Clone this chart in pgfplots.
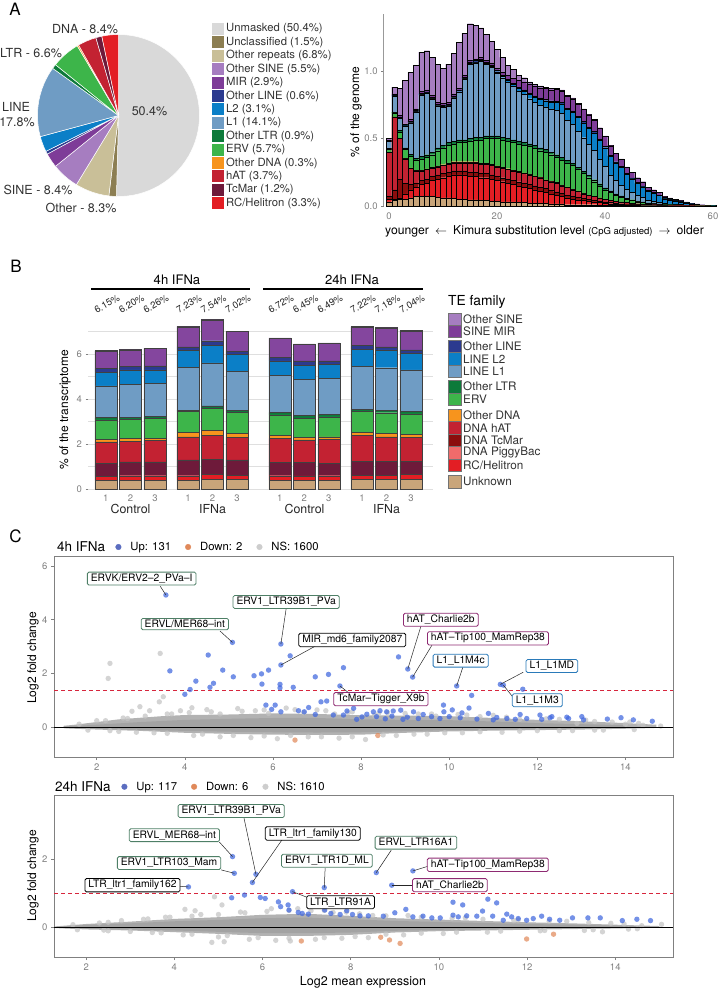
\documentclass[border=0pt]{standalone}
\usepackage{fontspec}
\setmainfont{TeX Gyre Heros}
\usepackage{pgfplots}
\usepackage{pgfplotstable}
\pgfplotsset{compat=1.18}
\pgfplotsset{/pgf/number format/assume math mode=true}

\definecolor{cUnm}{HTML}{D9D9D9}
\definecolor{cUncl}{HTML}{8C7E52}
\definecolor{cOrep}{HTML}{C9BF98}
\definecolor{cOSINE}{HTML}{A67DC0}
\definecolor{cMIR}{HTML}{7E3C98}
\definecolor{cOLINE}{HTML}{2B3A8F}
\definecolor{cL2}{HTML}{0B7FC7}
\definecolor{cL1}{HTML}{6F9CC4}
\definecolor{cOLTR}{HTML}{0D7A3A}
\definecolor{cERV}{HTML}{3DB54A}
\definecolor{cODNA}{HTML}{F7941D}
\definecolor{chAT}{HTML}{C32232}
\definecolor{cTcMar}{HTML}{6E1A3A}
\definecolor{cTcMarH}{HTML}{8B0D0D}
\definecolor{cHel}{HTML}{E31E24}
\definecolor{cPig}{HTML}{F06B6B}
\definecolor{cUnk}{HTML}{C9A57A}
\definecolor{cTick}{HTML}{808080}
\definecolor{cTxt}{HTML}{333333}
\definecolor{cBlue}{HTML}{3F66DE}
\definecolor{cBlueL}{HTML}{5B6DC0}
\definecolor{cOrange}{HTML}{E0895A}
\definecolor{cGrayPt}{HTML}{C4C4C4}
\definecolor{cBand}{HTML}{B2B2B2}
\definecolor{cCore}{HTML}{A3A3A3}
\definecolor{cRedLine}{HTML}{D7263D}
\definecolor{bG}{HTML}{4E7F66}
\definecolor{bP}{HTML}{8E2A72}
\definecolor{bB}{HTML}{2A7AB9}

\newcommand\fs[1]{\fontsize{#1}{#1}\selectfont}
\newcommand\piewedge[3]{\fill[#1, draw=white, line width=0.5pt] (axis cs:0,0) -- ++({90-3.6*#2}:81pt) arc[start angle={90-3.6*#2}, end angle={90-3.6*#3}, radius=81pt] -- cycle;}
\tikzset{lbl/.style={fill=white, rounded corners=1.5pt, line width=0.8pt, inner xsep=3.5pt, inner ysep=1.8pt, font=\fs{10.3}}}
\newcommand\lab[8]{\draw[black!85, line width=0.5pt] (axis cs:#1,#2) -- (axis cs:#3,#4); \node[lbl, draw=#7] at (axis cs:#5,#6) {#8};}
\pgfplotsset{dots/.style={forget plot, only marks, mark=*, mark size=2.7pt, color=#1, draw opacity=0, fill opacity=0.72, mark options={fill=#1, draw opacity=0, fill opacity=0.72}}}

\pgfplotstableread{
k T R D H O E G LA LB N M S
0 .03 .02 .02 .33 0 .02 .005 .052 .003 .005 .005 .01
1 .04 .01 .07 .54 0 .03 .005 .115 .005 .005 .01 .05
2 .05 .01 .14 .30 0 .05 .01 .09 .005 .005 .01 .20
3 .05 .04 .08 .18 .003 .067 .01 .16 .005 .005 .01 .32
4 .06 .06 .04 .12 .003 .087 .015 .232 .005 .006 .012 .35
5 .07 .07 .03 .09 .004 .076 .015 .342 .005 .006 .012 .32
6 .07 .09 .03 .07 .005 .085 .02 .453 .005 .007 .015 .29
7 .07 .10 .03 .07 .005 .085 .02 .453 .005 .007 .015 .29
8 .07 .12 .03 .06 .005 .095 .02 .393 .005 .007 .015 .28
9 .065 .135 .03 .06 .005 .115 .02 .313 .005 .007 .015 .28
10 .06 .15 .03 .06 .006 .124 .02 .283 .005 .007 .015 .26
11 .06 .16 .03 .06 .006 .134 .02 .272 .005 .008 .015 .28
12 .055 .175 .03 .06 .008 .132 .02 .322 .005 .008 .015 .30
13 .05 .18 .03 .06 .008 .142 .02 .352 .005 .008 .015 .34
14 .05 .18 .03 .06 .008 .142 .02 .452 .005 .008 .015 .31
15 .045 .175 .03 .07 .008 .152 .02 .55 .008 .01 .012 .27
16 .045 .175 .03 .07 .008 .162 .02 .55 .008 .01 .012 .25
17 .04 .17 .03 .07 .008 .172 .02 .56 .008 .01 .012 .22
18 .04 .17 .03 .07 .008 .182 .02 .53 .008 .01 .012 .19
19 .035 .165 .03 .07 .008 .192 .02 .505 .01 .01 .015 .16
20 .035 .155 .03 .07 .008 .202 .02 .465 .01 .01 .015 .14
21 .03 .15 .03 .07 .006 .204 .02 .44 .01 .01 .02 .11
22 .03 .14 .03 .07 .006 .204 .02 .418 .012 .01 .03 .07
23 .03 .13 .03 .07 .005 .205 .02 .395 .015 .01 .04 .06
24 .025 .125 .03 .07 .005 .205 .02 .37 .02 .01 .05 .04
25 .025 .115 .03 .07 .005 .205 .02 .355 .025 .01 .06 .03
26 .02 .11 .03 .07 .004 .206 .02 .335 .03 .01 .065 .02
27 .02 .10 .03 .07 .004 .206 .02 .32 .035 .01 .07 .015
28 .02 .09 .03 .07 .004 .196 .02 .32 .04 .01 .075 .015
29 .02 .08 .03 .06 .003 .207 .02 .315 .045 .01 .08 .01
30 .015 .075 .025 .065 .003 .197 .02 .32 .05 .01 .08 .01
31 .015 .065 .025 .065 .003 .187 .02 .327 .06 .01 .085 .008
32 .015 .055 .025 .055 .002 .188 .02 .327 .07 .01 .085 .008
33 .01 .05 .02 .06 .002 .178 .02 .294 .08 .01 .09 .006
34 .01 .04 .02 .05 .002 .178 .018 .287 .09 .01 .09 .005
35 .01 .035 .02 .045 .002 .158 .018 .267 .10 .01 .09 .005
36 .01 .03 .015 .035 .002 .148 .017 .249 .11 .01 .09 .004
37 .01 .025 .015 .03 .001 .129 .016 .23 .12 .01 .09 .004
38 .01 .02 .012 .028 .001 .109 .015 .217 .13 .01 .085 .003
39 .005 .02 .01 .025 .001 .089 .015 .182 .14 .01 .08 .003
40 .005 .015 .01 .02 .001 .069 .015 .157 .14 .01 .075 .003
41 .005 .012 .008 .015 0 .06 .012 .117 .14 .008 .07 .003
42 .004 .01 .006 .015 0 .045 .01 .10 .13 .008 .06 .002
43 .004 .008 .005 .013 0 .035 .01 .08 .13 .008 .055 .002
44 .003 .007 .005 .01 0 .025 .008 .067 .11 .008 .045 .002
45 .003 .006 .004 .007 0 .02 .007 .055 .10 .006 .04 .002
46 .003 .005 .003 .006 0 .013 .006 .041 .09 .006 .035 .002
47 .002 .004 .003 .005 0 .011 .005 .033 .08 .005 .03 .002
48 .002 .003 .002 .004 0 .009 .004 .02 .065 .005 .025 .001
49 .002 .003 .002 .003 0 .006 .004 .015 .06 .004 .02 .001
50 .001 .002 .002 .003 0 .005 .003 .011 .05 .004 .018 .001
51 .001 .002 .001 .002 0 .004 .002 .007 .035 .003 .012 .001
52 .001 .001 .001 .002 0 .003 .002 .006 .03 .003 .01 .001
53 .001 .001 .001 .001 0 .002 .002 .005 .025 .003 .008 .001
54 .001 .001 .0005 .0005 0 .002 .001 .005 .02 .002 .006 .001
55 .001 .001 0 .001 0 .001 .001 .003 .015 .002 .005 0
56 .0005 .0005 0 .001 0 .001 .0005 .0025 .01 .001 .003 0
57 .0005 .0005 0 .0005 0 .0005 .0005 .0015 .008 .001 .002 0
58 .0003 .0003 0 .0004 0 .0005 .0005 0 .005 .001 .002 0
59 0 0 0 .0005 0 .0005 .0005 0 .003 .0005 .001 0
60 0 0 0 0 0 .0005 .0005 0 .0015 .0005 .001 0
}\hist

\pgfplotstableread{
x tan red wine hat odna erv oltr la lb oline mir osine
0 .38 .17 .59 .96 .12 .85 .10 1.41 .59 .19 .77 .02
1 .40 .19 .62 .92 .12 .86 .09 1.45 .64 .15 .74 .02
2 .40 .19 .62 .94 .11 .87 .09 1.48 .59 .18 .77 .02
3.35 .40 .19 .70 1.03 .20 .92 .07 1.90 .74 .17 .89 .02
4.35 .43 .22 .67 1.08 .22 .97 .10 1.92 .79 .19 .93 .02
5.35 .43 .19 .67 1.01 .17 .94 .10 1.73 .74 .15 .87 .02
7.1 .40 .19 .60 1.06 .15 .90 .11 1.63 .66 .15 .85 .02
8.1 .40 .18 .59 1.01 .12 .84 .12 1.61 .64 .18 .74 .02
9.1 .40 .19 .55 1.07 .11 .89 .11 1.60 .62 .16 .77 .02
10.45 .43 .19 .62 1.13 .15 .92 .10 1.90 .77 .16 .83 .02
11.45 .43 .19 .62 1.08 .15 .92 .10 1.90 .79 .14 .84 .02
12.45 .43 .22 .59 1.06 .14 .90 .10 1.85 .74 .15 .84 .02
}\tblB

\pgfplotsset{maplot/.style={scale only axis, width=619pt,
  axis line style={cTick, line width=0.6pt}, tick style={cTick, line width=0.6pt},
  tick align=outside, major tick length=3pt, xtick pos=left, ytick pos=left,
  xtick={2,4,...,14}, tick label style={font=\fs{9.5}, text=cTick},
  clip mode=individual, legend columns=-1,
  legend style={draw=none, fill=none, inner sep=0pt, font=\fs{11.3},
    /tikz/every even column/.append style={column sep=12pt},
    /tikz/every odd column/.append style={column sep=7pt}}}}

\begin{document}
\begin{tikzpicture}
\useasboundingbox (0pt,0pt) rectangle (725pt,-990pt);

% ---------------- PIE ----------------
\begin{axis}[at={(118.5pt,-115.5pt)}, anchor=center, scale only axis, width=162pt, height=162pt,
  hide axis, xmin=-1, xmax=1, ymin=-1, ymax=1, clip=false]
\addplot[draw=none, forget plot] coordinates {(0,0)};
\piewedge{cUnm}{0}{50.4}
\piewedge{cUncl}{50.4}{51.9}
\piewedge{cOrep}{51.9}{58.7}
\piewedge{cOSINE}{58.7}{64.2}
\piewedge{cMIR}{64.2}{67.1}
\piewedge{cOLINE}{67.1}{67.7}
\piewedge{cL2}{67.7}{70.8}
\piewedge{cL1}{70.8}{84.9}
\piewedge{cOLTR}{84.9}{85.8}
\piewedge{cERV}{85.8}{91.5}
\piewedge{cODNA}{91.5}{91.8}
\piewedge{chAT}{91.8}{95.5}
\piewedge{cTcMar}{95.5}{96.7}
\piewedge{cHel}{96.7}{100}
\end{axis}

% ---------------- HISTOGRAM ----------------
\begin{axis}[at={(383.6pt,-206pt)}, anchor=south west, scale only axis,
  width=340.2pt, height=191.7pt, xmin=-1, xmax=62, ymin=0, ymax=1.42,
  ybar stacked, bar width=1,
  axis lines*=left, x axis line style={draw=none}, y axis line style={draw=cTick!80, line width=1pt},
  xtick={0,20,40,60}, ytick={0,0.5,1}, yticklabels={0.0,0.5,1.0},
  xtick style={draw=none}, ytick style={cTick, line width=0.6pt}, tick align=outside, major tick length=2.5pt,
  tick label style={font=\fs{9.5}, text=cTick}, xticklabel style={yshift=-1pt}]
\addplot[fill=cUnk, draw=black, line width=0.3pt] table[x=k,y=T]{\hist};
\addplot[fill=cHel, draw=black, line width=0.3pt] table[x=k,y=R]{\hist};
\addplot[fill=cTcMarH, draw=black, line width=0.3pt] table[x=k,y=D]{\hist};
\addplot[fill=chAT, draw=black, line width=0.3pt] table[x=k,y=H]{\hist};
\addplot[fill=cODNA, draw=black, line width=0.3pt] table[x=k,y=O]{\hist};
\addplot[fill=cERV, draw=black, line width=0.3pt] table[x=k,y=E]{\hist};
\addplot[fill=cOLTR, draw=black, line width=0.3pt] table[x=k,y=G]{\hist};
\addplot[fill=cL1, draw=black, line width=0.3pt] table[x=k,y=LA]{\hist};
\addplot[fill=cL2, draw=black, line width=0.3pt] table[x=k,y=LB]{\hist};
\addplot[fill=cOLINE, draw=black, line width=0.3pt] table[x=k,y=N]{\hist};
\addplot[fill=cMIR, draw=black, line width=0.3pt] table[x=k,y=M]{\hist};
\addplot[fill=cOSINE, draw=black, line width=0.3pt] table[x=k,y=S]{\hist};
\end{axis}

% ---------------- PANEL B ----------------
\begin{axis}[at={(88pt,-489pt)}, anchor=south west, scale only axis,
  width=345pt, height=171pt, xmin=-0.73, xmax=13.35, ymin=0, ymax=7.6,
  ybar stacked, bar width=0.9,
  axis lines*=left, axis line style={draw=none},
  xtick={0,1,2,3.35,4.35,5.35,7.1,8.1,9.1,10.45,11.45,12.45},
  xticklabels={1,2,3,1,2,3,1,2,3,1,2,3},
  ytick={0,2,4,6}, minor ytick={1,3,5,7},
  ymajorgrids, yminorgrids, grid style={gray!25, line width=0.7pt},
  xtick style={draw=none}, ytick style={cTick, line width=0.6pt}, tick align=outside, major tick length=2.5pt,
  minor tick length=0pt,
  tick label style={font=\fs{9.5}, text=cTick}]
\addplot[fill=cUnk, draw=black!75, line width=0.45pt] table[x=x,y=tan]{\tblB};
\addplot[fill=cHel, draw=black!75, line width=0.45pt] table[x=x,y=red]{\tblB};
\addplot[fill=cTcMar, draw=black!75, line width=0.45pt] table[x=x,y=wine]{\tblB};
\addplot[fill=chAT, draw=black!75, line width=0.45pt] table[x=x,y=hat]{\tblB};
\addplot[fill=cODNA, draw=black!75, line width=0.45pt] table[x=x,y=odna]{\tblB};
\addplot[fill=cERV, draw=black!75, line width=0.45pt] table[x=x,y=erv]{\tblB};
\addplot[fill=cOLTR, draw=black!75, line width=0.45pt] table[x=x,y=oltr]{\tblB};
\addplot[fill=cL1, draw=black!75, line width=0.45pt] table[x=x,y=la]{\tblB};
\addplot[fill=cL2, draw=black!75, line width=0.45pt] table[x=x,y=lb]{\tblB};
\addplot[fill=cOLINE, draw=black!75, line width=0.45pt] table[x=x,y=oline]{\tblB};
\addplot[fill=cMIR!85!cOSINE, draw=black!75, line width=0.45pt] table[x=x,y=mir]{\tblB};
\addplot[fill=cOSINE, draw=black!75, line width=0.45pt] table[x=x,y=osine]{\tblB};
\end{axis}

% ---------------- PANEL C top ----------------
\begin{axis}[maplot, at={(54pt,-757pt)}, anchor=south west, height=201pt,
  xmin=1.03, xmax=15.08, ymin=-1.10, ymax=6.37, ytick={0,2,4,6},
  legend style={at={(0.0989,1.0448)}, anchor=west}]
\addlegendimage{legend image code/.code={\fill[cBlueL] (0pt,0pt) circle (2.8pt);}}
\addlegendentry{Up: 131}
\addlegendimage{legend image code/.code={\fill[cOrange] (0pt,0pt) circle (2.8pt);}}
\addlegendentry{Down: 2}
\addlegendimage{legend image code/.code={\fill[cGrayPt!85] (0pt,0pt) circle (2.8pt);}}
\addlegendentry{NS: 1600}
\addplot[forget plot, fill=cBand, draw=none] coordinates {(1.25,0.06) (1.5,0.1) (2,0.2) (2.5,0.3) (3,0.36) (3.5,0.42) (4,0.46) (5,0.48) (6,0.52) (7,0.5) (8,0.45) (9,0.44) (10,0.42) (11,0.35) (12,0.28) (13,0.23) (14,0.16) (14.7,0.1) (14.7,-0.02) (14,-0.05) (13,-0.08) (12,-0.1) (11,-0.12) (10,-0.15) (9,-0.2) (8,-0.27) (7,-0.28) (6,-0.27) (5,-0.24) (4,-0.2) (3,-0.13) (2,-0.08) (1.5,-0.05) (1.25,-0.03)} -- cycle;
\addplot[forget plot, fill=cCore, draw=none] coordinates {(1.25,0.03) (2,0.1) (3,0.2) (4,0.28) (5,0.32) (6,0.35) (7,0.35) (8,0.3) (9,0.28) (10,0.27) (11,0.22) (12,0.16) (13,0.12) (14,0.08) (14,-0.02) (13,-0.04) (12,-0.06) (11,-0.08) (10,-0.1) (9,-0.14) (8,-0.18) (7,-0.19) (6,-0.18) (5,-0.16) (4,-0.13) (3,-0.09) (2,-0.05) (1.25,-0.02)} -- cycle;
\addplot[dots=cGrayPt] coordinates {
(3.44,2.75) (2.30,2.38) (2.26,1.82) (3.42,0.95) (3.51,1.14) (2.98,0.77) (4.16,0.73) (2.8,0.6) (3.2,0.62) (3.9,0.62) (4.5,0.66) (5.2,0.7) (5.6,0.62) (6.3,0.72) (7.0,0.65) (7.8,0.58) (8.6,0.55) (9.3,0.5) (10.2,0.48) (11.0,0.45) (12.5,0.3) (13.3,0.22) (14.0,0.12) (14.3,0.15) (14.8,0.05)
(2.5,-0.15) (3.3,-0.2) (4.2,-0.3) (4.8,-0.35) (5.5,-0.38) (6.1,-0.42) (6.8,-0.35) (7.5,-0.4) (8.1,-0.45) (8.8,-0.3) (9.5,-0.25) (10.3,-0.2) (11.2,-0.18) (12.0,-0.12) (12.8,-0.12) (13.5,-0.1)
(12.9,0.15) (13.7,0.2) (14.4,0.08) (2.0,0.25) (2.6,0.35) (3.7,0.5) (4.8,0.5) (5.9,0.52) (6.7,0.55) (7.4,0.5) (8.3,0.45) (9.7,0.42) (10.7,0.4) (11.6,0.3)
(1.6,0.12) (2.2,0.25) (2.7,0.33) (3.1,0.42) (3.6,0.5) (4.1,0.55) (4.6,0.58) (5.3,0.6) (5.8,0.65) (6.5,0.66) (7.2,0.62) (7.7,0.55) (8.4,0.52) (9.0,0.52) (9.6,0.5) (10.4,0.46) (11.3,0.38) (12.2,0.32) (13.1,0.27) (14.1,0.2)
(1.8,-0.1) (2.3,-0.12) (2.9,-0.18) (3.6,-0.22) (4.4,-0.25) (5.1,-0.3) (5.8,-0.32) (6.4,-0.3) (7.1,-0.35) (7.8,-0.35) (8.5,-0.28) (9.2,-0.25) (9.9,-0.2) (10.7,-0.16) (11.6,-0.14) (12.5,-0.12) (13.3,-0.1) (14.2,-0.08)};
\addplot[forget plot, black, line width=0.9pt] coordinates {(1.03,0) (15.08,0)};
\addplot[forget plot, cRedLine, line width=0.8pt, dash pattern=on 4pt off 3pt] coordinates {(1.03,1.38) (15.08,1.38)};
\addplot[dots=cBlue] coordinates {
(3.57,4.92) (5.08,3.16) (6.18,3.10) (6.18,2.32) (3.66,2.10) (4.53,2.69) (4.86,2.13) (5.10,1.88) (4.25,1.72) (4.12,1.41) (4.00,1.23) (4.65,1.64) (4.57,1.49) (5.57,1.92) (5.74,1.99) (5.90,2.13) (6.39,2.66) (5.75,1.61) (6.16,1.60) (6.16,1.47) (6.46,1.49) (6.96,1.88) (7.26,1.97) (7.60,2.22) (7.52,1.54) (7.09,0.95) (7.22,0.98) (5.84,0.83) (6.05,0.83) (5.97,0.67) (6.18,0.58) (6.58,0.62) (6.71,0.58) (6.81,0.74) (6.96,0.48) (7.68,0.61) (7.83,0.71) (7.60,0.46) (7.37,0.46) (8.02,0.39)
(8.85,2.62) (9.06,2.17) (9.17,1.87) (10.17,1.54) (11.16,1.60) (11.23,1.57) (11.67,1.42) (10.51,1.19) (9.87,0.83) (9.88,0.58) (10.07,0.65) (10.29,0.54) (10.45,0.72) (9.19,0.58) (9.41,0.48) (8.90,0.64) (8.73,0.61) (8.58,0.58) (8.43,0.62) (8.28,0.58) (8.13,0.49) (10.89,0.52) (11.08,0.37) (11.61,0.48) (12.06,0.46) (12.33,0.40) (12.67,0.38) (13.01,0.40) (13.05,0.28) (13.59,0.31) (13.90,0.36) (14.18,0.28) (14.61,0.23) (9.79,0.33) (10.25,0.36) (10.63,0.31) (11.31,0.33) (11.50,0.30) (11.76,0.33) (12.29,0.36) (12.71,0.33) (8.35,0.40) (8.70,0.42) (9.05,0.38) (9.60,0.40) (8.55,0.32) (9.30,0.33) (10.00,0.40) (11.00,0.28) (12.10,0.30) (7.90,0.30) (8.95,0.30)};
\addplot[dots=cOrange] coordinates {(6.50,-0.47) (8.38,-0.30)};
\lab{3.57}{4.92}{3.44}{5.25}{3.02}{5.53}{bG}{ERVK/ERV2--2\_PVa--I}
\lab{6.18}{3.10}{6.30}{4.42}{6.30}{4.66}{bG}{ERV1\_LTR39B1\_PVa}
\lab{5.08}{3.16}{4.80}{3.58}{4.00}{3.84}{bG}{ERVL/MER68--int}
\lab{6.18}{2.32}{6.96}{3.02}{7.80}{3.25}{black}{MIR\_md6\_family2087}
\lab{9.06}{2.17}{9.36}{3.77}{9.81}{4.00}{bP}{hAT\_Charlie2b}
\lab{9.17}{1.87}{9.61}{3.06}{10.88}{3.31}{bP}{hAT--Tip100\_MamRep38}
\lab{10.17}{1.54}{10.31}{2.24}{10.26}{2.48}{bB}{L1\_L1M4c}
\lab{11.16}{1.60}{11.68}{2.05}{12.33}{2.28}{bB}{L1\_L1MD}
\lab{11.23}{1.57}{11.43}{1.16}{12.00}{1.01}{bB}{L1\_L1M3}
\lab{7.52}{1.54}{7.70}{1.31}{8.45}{1.05}{bP}{TcMar--Tigger\_X9b}
\end{axis}

% ---------------- PANEL C bottom ----------------
\begin{axis}[maplot, at={(54pt,-957pt)}, anchor=south west, height=162pt,
  xmin=1.27, xmax=15.31, ymin=-0.87, ymax=3.89, ytick={0,2},
  legend style={at={(0.1086,1.051)}, anchor=west}]
\addlegendimage{legend image code/.code={\fill[cBlueL] (0pt,0pt) circle (2.8pt);}}
\addlegendentry{Up: 117}
\addlegendimage{legend image code/.code={\fill[cOrange] (0pt,0pt) circle (2.8pt);}}
\addlegendentry{Down: 6}
\addlegendimage{legend image code/.code={\fill[cGrayPt!85] (0pt,0pt) circle (2.8pt);}}
\addlegendentry{NS: 1610}
\addplot[forget plot, fill=cBand, draw=none] coordinates {(1.3,0.03) (2,0.1) (3,0.17) (4,0.25) (5,0.3) (6,0.37) (7,0.4) (8,0.34) (9,0.27) (10,0.23) (11,0.19) (12,0.15) (13,0.12) (14,0.08) (15,0.04) (15,-0.01) (14,-0.03) (13,-0.05) (12,-0.07) (11,-0.09) (10,-0.11) (9,-0.15) (8,-0.22) (7,-0.25) (6,-0.25) (5,-0.19) (4,-0.14) (3,-0.09) (2,-0.06) (1.3,-0.02)} -- cycle;
\addplot[forget plot, fill=cCore, draw=none] coordinates {(1.3,0.02) (2,0.07) (3,0.12) (4,0.18) (5,0.22) (6,0.27) (7,0.29) (8,0.24) (9,0.19) (10,0.16) (11,0.13) (12,0.1) (13,0.08) (14,0.05) (15,0.02) (15,-0.005) (14,-0.02) (13,-0.03) (12,-0.04) (11,-0.06) (10,-0.07) (9,-0.1) (8,-0.15) (7,-0.17) (6,-0.17) (5,-0.13) (4,-0.09) (3,-0.06) (2,-0.04) (1.3,-0.01)} -- cycle;
\addplot[dots=cGrayPt] coordinates {
(4.91,0.90) (5.08,0.66) (4.24,0.53) (4.47,0.49) (4.85,-0.44) (5.13,-0.42) (6.63,-0.40) (13.71,-0.13) (15.05,0.09)
(2.5,0.15) (3.4,0.25) (3.8,0.3) (4.6,0.38) (5.5,0.45) (6.2,0.55) (6.8,0.55) (7.4,0.5) (7.9,0.45) (8.5,0.35) (9.3,0.35) (10.6,0.28) (11.8,0.22) (12.9,0.18) (13.9,0.12) (14.6,0.05)
(2.5,-0.1) (3.5,-0.15) (4.2,-0.22) (5.0,-0.28) (5.7,-0.35) (6.3,-0.38) (7.2,-0.35) (7.8,-0.32) (8.4,-0.3) (9.2,-0.22) (10.1,-0.18) (11.1,-0.14) (12.3,-0.1) (13.3,-0.09) (14.3,-0.05)
(1.7,0.08) (2.3,0.13) (2.8,0.2) (3.3,0.24) (3.9,0.3) (4.4,0.33) (5.0,0.38) (5.6,0.43) (6.1,0.47) (6.6,0.5) (7.1,0.49) (7.6,0.44) (8.2,0.4) (8.8,0.34) (9.6,0.3) (10.3,0.27) (11.0,0.24) (11.7,0.2) (12.5,0.18) (13.4,0.14) (14.2,0.1)
(1.8,-0.07) (2.4,-0.08) (3.0,-0.12) (3.7,-0.16) (4.4,-0.2) (5.2,-0.24) (5.9,-0.3) (6.6,-0.32) (7.4,-0.3) (8.1,-0.27) (8.8,-0.2) (9.6,-0.17) (10.4,-0.14) (11.4,-0.11) (12.4,-0.09) (13.5,-0.07) (14.5,-0.04)};
\addplot[forget plot, black, line width=0.9pt] coordinates {(1.27,0) (15.31,0)};
\addplot[forget plot, cRedLine, line width=0.8pt, dash pattern=on 4pt off 3pt] coordinates {(1.27,1) (15.31,1)};
\addplot[dots=cBlue] coordinates {
(5.32,2.08) (5.36,1.59) (5.85,1.56) (5.77,1.32) (4.32,1.19) (7.40,1.17) (6.68,1.05) (5.30,0.87) (5.59,0.95) (5.95,0.88) (6.06,0.85) (6.36,0.75) (6.58,0.66) (6.60,0.51) (6.81,0.44) (6.90,0.41) (7.04,0.39) (7.41,0.51) (7.55,0.41) (7.76,0.38) (7.91,0.49) (8.04,0.38) (8.21,0.34) (6.41,0.61)
(8.58,1.61) (9.41,1.66) (8.93,1.24) (10.32,0.74) (10.54,0.66) (11.11,0.83) (11.31,0.72) (10.99,0.48) (11.54,0.39) (9.25,0.53) (9.00,0.43) (8.74,0.33) (8.40,0.34) (9.41,0.31) (9.64,0.33) (9.84,0.28) (10.03,0.28) (10.32,0.36) (10.44,0.31) (10.63,0.34) (10.86,0.33) (11.22,0.33) (11.46,0.21) (11.65,0.31) (11.80,0.26) (11.99,0.21) (12.14,0.26) (12.33,0.33) (12.51,0.24) (12.74,0.21) (13.03,0.28) (13.38,0.28) (13.66,0.28) (14.16,0.20) (14.49,0.24) (14.80,0.20)};
\addplot[dots=cOrange] coordinates {(6.88,-0.40) (8.68,-0.29) (8.88,-0.37) (9.12,-0.47) (11.99,-0.34) (12.60,-0.20)};
\lab{5.85}{1.56}{5.58}{3.21}{5.29}{3.42}{bG}{ERV1\_LTR39B1\_PVa}
\lab{5.32}{2.08}{5.02}{2.51}{4.00}{2.71}{bG}{ERVL\_MER68--int}
\lab{5.77}{1.32}{6.44}{2.57}{7.14}{2.76}{black}{LTR\_ltr1\_family130}
\lab{5.36}{1.59}{5.06}{1.69}{3.88}{1.89}{bG}{ERV1\_LTR103\_Mam}
\lab{7.40}{1.17}{7.42}{1.74}{7.46}{1.96}{bG}{ERV1\_LTR1D\_ML}
\lab{4.32}{1.19}{4.09}{1.21}{3.05}{1.24}{black}{LTR\_ltr1\_family162}
\lab{6.68}{1.05}{7.06}{0.86}{7.77}{0.74}{black}{LTR\_LTR91A}
\lab{8.58}{1.61}{8.92}{2.27}{9.48}{2.49}{bG}{ERVL\_LTR16A1}
\lab{9.41}{1.66}{9.76}{1.80}{11.11}{1.84}{bP}{hAT--Tip100\_MamRep38}
\lab{8.93}{1.24}{9.39}{1.24}{10.25}{1.24}{bP}{hAT\_Charlie2b}
\end{axis}

% ---------------- TEXT ----------------
\begin{scope}[x=1pt, y=-1pt]
\node[font=\fs{17}] at (15,9) {A};
\node[font=\fs{17}] at (16,266) {B};
\node[font=\fs{17}] at (15.5,536.5) {C};
% pie labels
\node[font=\fs{12.5}, text=cTxt] at (149.5,111) {50.4\%};
\node[font=\fs{12.5}, text=cTxt] at (85,29) {DNA - 8.4\%};
\node[font=\fs{12.5}, text=cTxt] at (31,53) {LTR - 6.6\%};
\node[font=\fs{12.5}, text=cTxt] at (16,107) {LINE};
\node[font=\fs{12.5}, text=cTxt] at (17,122) {17.8\%};
\node[font=\fs{12.5}, text=cTxt] at (38,190) {SINE - 8.4\%};
\node[font=\fs{12.5}, text=cTxt] at (81,208) {Other - 8.3\%};
% pie legend
\foreach \c/\t [count=\i from 0] in {cUnm/{Unmasked (50.4\%)}, cUncl/{Unclassified (1.5\%)}, cOrep/{Other repeats (6.8\%)}, cOSINE/{Other SINE (5.5\%)}, cMIR/{MIR (2.9\%)}, cOLINE/{Other LINE (0.6\%)}, cL2/{L2 (3.1\%)}, cL1/{L1 (14.1\%)}, cOLTR/{Other LTR (0.9\%)}, cERV/{ERV (5.7\%)}, cODNA/{Other DNA (0.3\%)}, chAT/{hAT (3.7\%)}, cTcMar/{TcMar (1.2\%)}, cHel/{RC/Helitron (3.3\%)}} {
  \fill[\c] (212,{29+13.4*\i-6}) rectangle (224,{29+13.4*\i+6});
  \node[anchor=west, font=\fs{11.3}, text=cTxt, inner sep=0pt] at (226,{29+13.4*\i}) {\t};
}
% histogram labels
\node[font=\fs{12}, rotate=90] at (356,112) {\% of the genome};
\node[font=\fs{12.2}] at (544.5,231) {younger\enspace$\leftarrow$\enspace Kimura substitution level {\fs{9.5}(CpG adjusted)}\enspace$\rightarrow$\enspace older};
% panel B labels
\node[font=\fs{13.1}] at (177,280) {4h IFNa};
\draw[line width=2.6pt] (91,289) -- (250,289);
\node[font=\fs{13.1}] at (352,280) {24h IFNa};
\draw[line width=2.6pt] (263,289) -- (423,289);
\foreach \x/\t in {106/6.15, 130.5/6.20, 155/6.26, 188/7.23, 212.6/7.54, 237/7.02, 280/6.72, 304.5/6.45, 329/6.49, 362/7.22, 386.5/7.18, 411/7.04} {
  \node[font=\fs{9.6}, rotate=30, text=black!85, inner sep=0.5pt] at (\x+1,304) {\t\%};
}
\node[font=\fs{12.4}, text=black!85] at (130.5,509) {Control};
\node[font=\fs{12.4}, text=black!85] at (212.6,509) {IFNa};
\node[font=\fs{12.4}, text=black!85] at (304.5,509) {Control};
\node[font=\fs{12.4}, text=black!85] at (386.5,509) {IFNa};
\node[font=\fs{12}, rotate=90] at (65,410) {\% of the transcriptome};
% panel B legend
\node[anchor=west, font=\fs{13.8}, inner sep=0pt] at (448,302) {TE family};
\foreach \c/\t/\y in {cOSINE/{Other SINE}/319.3, cMIR/{SINE MIR}/331.5, cOLINE/{Other LINE}/346.5, cL2/{LINE L2}/359, cL1/{LINE L1}/371.5, cOLTR/{Other LTR}/386.7, cERV/{ERV}/399.2, cODNA/{Other DNA}/415.5, chAT/{DNA hAT}/428, cTcMarH/{DNA TcMar}/440.5, cPig/{DNA PiggyBac}/453, cHel/{RC/Helitron}/465.5, cUnk/{Unknown}/481.7} {
  \fill[\c, draw=black!55, line width=0.6pt] (448,\y-6.25) rectangle (461,\y+6.25);
  \node[anchor=west, font=\fs{11.7}, text=cTxt, inner sep=0pt] at (463,\y) {\t};
}
% panel C labels
\node[anchor=west, font=\fs{13.5}, inner sep=0pt] at (57,547) {4h IFNa};
\node[anchor=west, font=\fs{13.5}, inner sep=0pt] at (55,786.7) {24h IFNa};
\node[font=\fs{12}, rotate=90] at (33,658) {Log2 fold change};
\node[font=\fs{12}, rotate=90] at (33,876) {Log2 fold change};
\node[font=\fs{12.5}] at (363,982) {Log2 mean expression};
\end{scope}
\end{tikzpicture}
\end{document}
